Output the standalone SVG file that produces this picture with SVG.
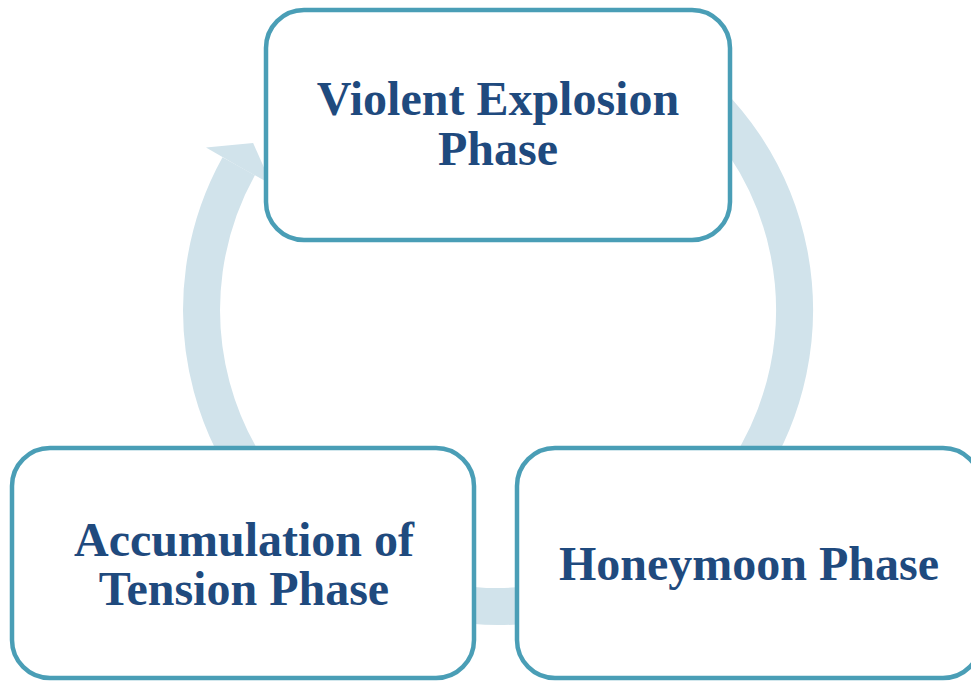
<svg xmlns="http://www.w3.org/2000/svg" width="971" height="682" viewBox="0 0 971 682">
<style>
.box{fill:#ffffff;stroke:#4a9eb6;stroke-width:4.5}
.lbl{font-family:"Liberation Serif","Times New Roman",serif;font-weight:bold;font-size:48px;fill:#1f4a7e;text-anchor:middle}
.ring{fill:none;stroke:#d1e3eb;stroke-width:37}
.head{fill:#d1e3eb}
</style>
<rect width="971" height="682" fill="#ffffff"/>
<g id="connectors">
<path class="ring" d="M 668.1 67.1 A 296.5 296.5 0 1 1 238.7 166.3"/>
<polygon class="head" points="206,147.5 253.1,142.9 271.5,184.4 238,166"/>
</g>
<g id="node-violent">
<rect class="box" x="266" y="10" width="464" height="230" rx="38"/>
<text class="lbl" x="498" y="115">Violent Explosion</text>
<text class="lbl" x="498" y="165">Phase</text>
</g>
<g id="node-honeymoon">
<rect class="box" x="517" y="448" width="464" height="230" rx="38"/>
<text class="lbl" x="749" y="580">Honeymoon Phase</text>
</g>
<g id="node-accumulation">
<rect class="box" x="12" y="448" width="462" height="230" rx="38"/>
<text class="lbl" x="244" y="556">Accumulation of</text>
<text class="lbl" x="244" y="605">Tension Phase</text>
</g>
</svg>
